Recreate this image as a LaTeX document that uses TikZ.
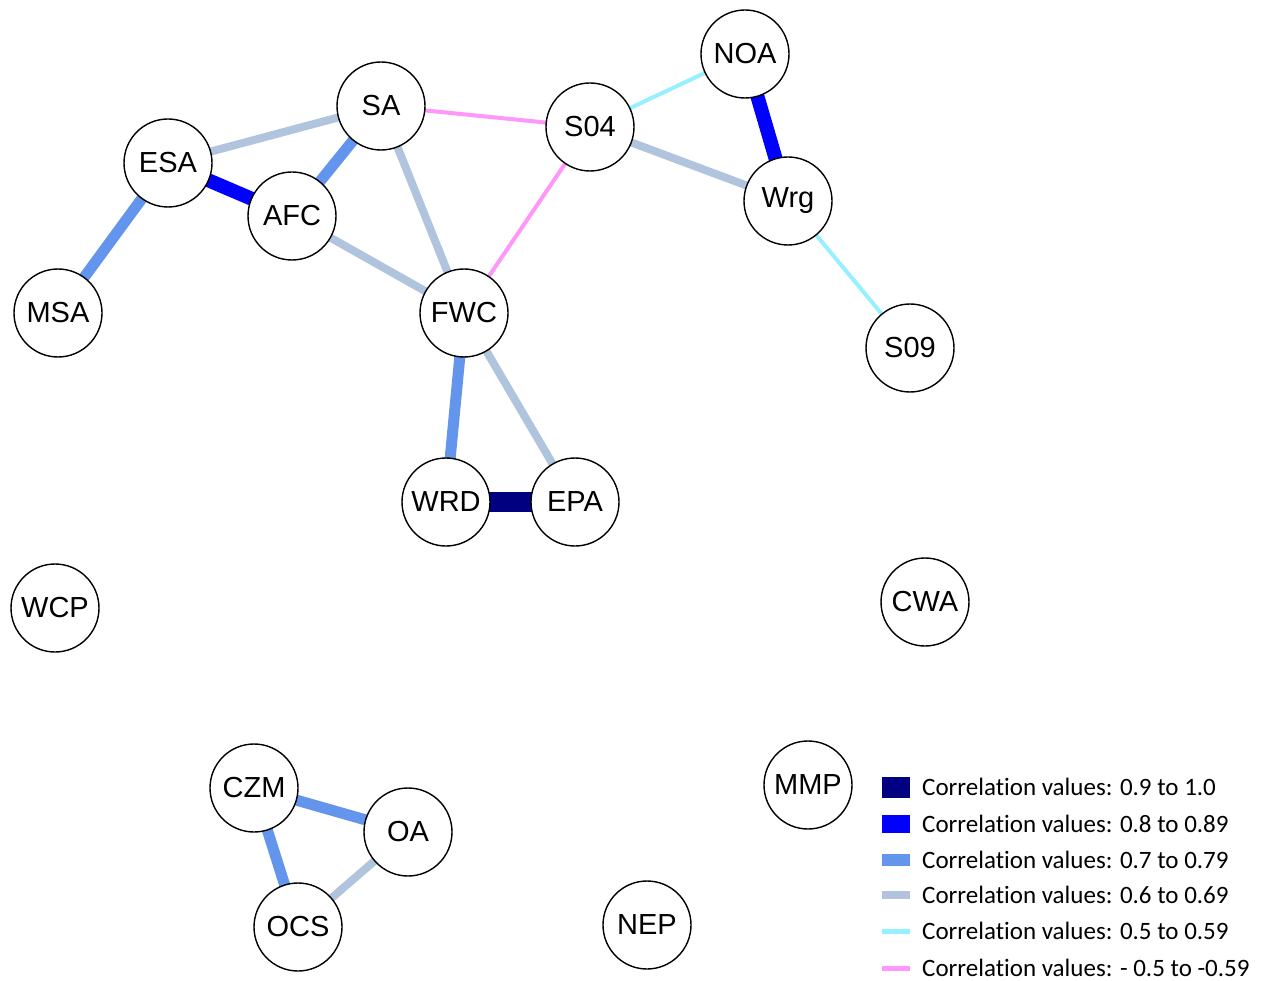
\documentclass[tikz,border=0pt]{standalone}
\usepackage{fontspec}
\setmainfont{Liberation Sans}
\newfontfamily\legfont[Ligatures=NoCommon]{Carlito}
\usetikzlibrary{backgrounds}
\definecolor{cnavy}{RGB}{0,0,128}
\definecolor{cblue}{RGB}{0,0,255}
\definecolor{ccorn}{RGB}{100,149,237}
\definecolor{clight}{RGB}{176,196,222}
\definecolor{ccyan}{RGB}{150,240,255}
\definecolor{cpink}{RGB}{255,150,250}
\tikzset{
  vtx/.style={circle,draw=black,line width=1.4pt,fill=white,minimum size=88pt,inner sep=0pt,font=\fontsize{29}{31}\selectfont},
  enavy/.style={draw=cnavy,line width=20pt},
  eblue/.style={draw=cblue,line width=14pt},
  ecorn/.style={draw=ccorn,line width=11pt},
  elight/.style={draw=clight,line width=8pt},
  ecyan/.style={draw=ccyan,line width=4pt},
  epink/.style={draw=cpink,line width=4pt},
  legtxt/.style={anchor=west,inner sep=0pt,font=\legfont\fontsize{25}{27}\selectfont},
}
\begin{document}
\begin{tikzpicture}[x=1pt,y=-1pt]
\useasboundingbox (0,0) rectangle (1263,981);
\node[vtx] (NOA) at (745,54) {NOA};
\node[vtx] (SA) at (381,106) {SA};
\node[vtx] (S04) at (590,127) {S04};
\node[vtx] (ESA) at (168,163) {ESA};
\node[vtx] (AFC) at (292,216) {AFC};
\node[vtx] (Wrg) at (788,201) {Wrg};
\node[vtx] (MSA) at (58,313) {MSA};
\node[vtx] (FWC) at (464,313) {FWC};
\node[vtx] (S09) at (910,348) {S09};
\node[vtx] (WRD) at (446,502) {WRD};
\node[vtx] (EPA) at (575,502) {EPA};
\node[vtx] (WCP) at (55,608) {WCP};
\node[vtx] (CWA) at (925,602) {CWA};
\node[vtx] (CZM) at (254,788) {CZM};
\node[vtx] (MMP) at (808,785) {MMP};
\node[vtx] (OA) at (408,832) {OA};
\node[vtx] (OCS) at (298,927) {OCS};
\node[vtx] (NEP) at (647,925) {NEP};
\begin{scope}[on background layer]
\draw[epink] (SA.center) -- (S04.center);
\draw[ecyan] (S04.center) -- (NOA.center);
\draw[eblue] (NOA.center) -- (Wrg.center);
\draw[elight] (S04.center) -- (Wrg.center);
\draw[ecyan] (Wrg.center) -- (S09.center);
\draw[epink] (S04.center) -- (FWC.center);
\draw[elight] (ESA.center) -- (SA.center);
\draw[ecorn] (SA.center) -- (AFC.center);
\draw[eblue] (ESA.center) -- (AFC.center);
\draw[ecorn] (ESA.center) -- (MSA.center);
\draw[elight] (SA.center) -- (FWC.center);
\draw[elight] (AFC.center) -- (FWC.center);
\draw[ecorn] (FWC.center) -- (WRD.center);
\draw[elight] (FWC.center) -- (EPA.center);
\draw[enavy] (WRD.center) -- (EPA.center);
\draw[ecorn] (CZM.center) -- (OA.center);
\draw[ecorn] (CZM.center) -- (OCS.center);
\draw[elight] (OA.center) -- (OCS.center);
\end{scope}
% legend
\coordinate (l1a) at (882,787); \coordinate (l1b) at (910,787);
\coordinate (l2a) at (882,824); \coordinate (l2b) at (910,824);
\coordinate (l3a) at (882,860); \coordinate (l3b) at (910,860);
\coordinate (l4a) at (882,895); \coordinate (l4b) at (910,895);
\coordinate (l5a) at (882,931); \coordinate (l5b) at (910,931);
\coordinate (l6a) at (882,968); \coordinate (l6b) at (910,968);
\draw[draw=cnavy,line width=21pt] (l1a) -- (l1b);
\draw[draw=cblue,line width=18pt] (l2a) -- (l2b);
\draw[draw=ccorn,line width=12pt] (l3a) -- (l3b);
\draw[draw=clight,line width=8pt] (l4a) -- (l4b);
\draw[draw=ccyan,line width=5pt] (l5a) -- (l5b);
\draw[draw=cpink,line width=5pt] (l6a) -- (l6b);
\node[legtxt] (t1) at (922,787) {Correlation values: 0.9 to 1.0};
\node[legtxt] (t2) at (922,824) {Correlation values: 0.8 to 0.89};
\node[legtxt] (t3) at (922,860) {Correlation values: 0.7 to 0.79};
\node[legtxt] (t4) at (922,895) {Correlation values: 0.6 to 0.69};
\node[legtxt] (t5) at (922,931) {Correlation values: 0.5 to 0.59};
\node[legtxt] (t6) at (922,968) {Correlation values: - 0.5 to -0.59};
\end{tikzpicture}
\end{document}
